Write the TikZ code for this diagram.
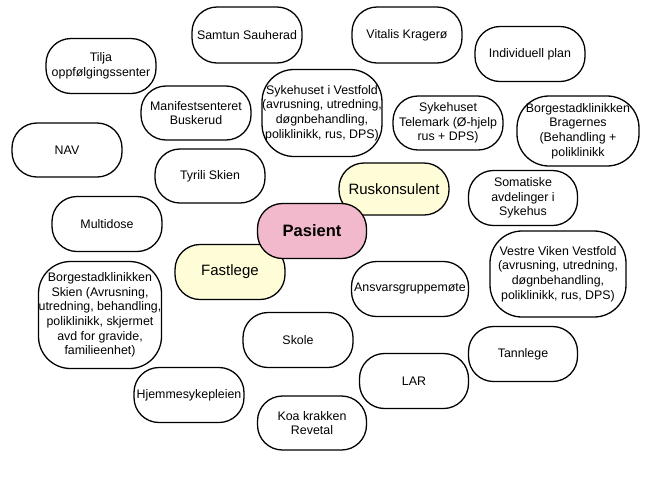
\documentclass[tikz,border=0pt]{standalone}
\usepackage{fontspec}
\setmainfont{Liberation Sans}
\definecolor{pasientpink}{RGB}{242,184,203}
\definecolor{paleyellow}{RGB}{255,252,216}
\begin{document}
\begin{tikzpicture}[x=1pt,y=-1pt,
  box/.style={draw=black,line width=1.3pt,rounded corners=25pt,fill=white,
    inner sep=0pt,align=center,font=\fontsize{12.4}{14.6}\selectfont},
  tall/.style={rounded corners=32pt},
  bw/.style={minimum width=#1},
  bh/.style={minimum height=#1}]
\useasboundingbox (0,0) rectangle (650,483);
\node[box,bw=110,bh=56] (samtun) at (247,35) {Samtun Sauherad};
\node[box,bw=110,bh=56] (vitalis) at (407,35) {Vitalis Kragerø};
\node[box,bw=110,bh=55] (individuell) at (530,54) {Individuell plan};
\node[box,bw=110,bh=55] (tilja) at (101,66) {Tilja\\oppfølgingssenter};
\node[box,bw=110,bh=54] (manifest) at (196,113) {Manifestsenteret\\Buskerud};
\node[box,tall,bw=119,bh=87] (vestfold) at (322,113) {Sykehuset i Vestfold\\(avrusning, utredning,\\døgnbehandling,\\poliklinikk, rus, DPS)};
\node[box,bw=110,bh=54] (telemark) at (448,123) {Sykehuset\\Telemark (Ø-hjelp\\rus + DPS)};
\node[box,tall,bw=122,bh=70] (bragernes) at (578,131) {Borgestadklinikken\\Bragernes\\(Behandling +\\poliklinikk};
\node[box,bw=110,bh=54] (nav) at (67,150) {NAV};
\node[box,bw=110,bh=54] (tyrili) at (210,176) {Tyrili Skien};
\node[box,bw=110,bh=52,fill=paleyellow,font=\fontsize{15}{17}\selectfont] (rus) at (394,189) {Ruskonsulent};
\node[box,bw=109,bh=55] (somatiske) at (523,198) {Somatiske\\avdelinger i\\Sykehus};
\node[box,bw=110,bh=55] (multidose) at (107,224) {Multidose};
\node[box,bw=110,bh=55,fill=paleyellow,font=\fontsize{15}{17}\selectfont] (fastlege) at (230,272) {Fastlege};
\node[box,bw=109,bh=55,fill=pasientpink,font=\fontsize{16.5}{19}\selectfont\bfseries] (pasient) at (312,231) {Pasient};
\node[box,tall,bw=136,bh=86] (vestreviken) at (558,274) {Vestre Viken Vestfold\\(avrusning, utredning,\\døgnbehandling,\\poliklinikk, rus, DPS)};
\node[box,bw=117,bh=55] (ansvar) at (410,289) {Ansvarsgruppemøte};
\node[box,tall,bw=123,bh=107] (skien) at (100,315) {Borgestadklinikken\\Skien (Avrusning,\\utredning, behandling,\\poliklinikk, skjermet\\avd for gravide,\\familieenhet)};
\node[box,bw=110,bh=55] (skole) at (298,340) {Skole};
\node[box,bw=109,bh=55] (tannlege) at (523,354) {Tannlege};
\node[box,bw=109,bh=55] (lar) at (414,381) {LAR};
\node[box,bw=110,bh=55] (hjemme) at (189,395) {Hjemmesykepleien};
\node[box,bw=109,bh=54] (koa) at (312,423) {Koa krakken\\Revetal};
\end{tikzpicture}
\end{document}
